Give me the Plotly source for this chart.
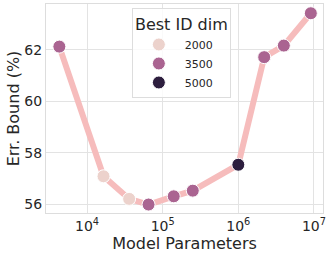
import plotly.graph_objects as go

params = [4.3e3, 1.65e4, 3.6e4, 6.5e4, 1.4e5, 2.5e5, 1.0e6, 2.2e6, 4.0e6, 9.1e6]
err_bound = [62.13, 57.08, 56.2, 55.98, 56.3, 56.52, 57.53, 61.72, 62.17, 63.43]
best_id_dim = [3500, 2000, 2000, 3500, 3500, 3500, 5000, 3500, 3500, 3500]
legend_dims = [2000, 3500, 5000]

xtick_vals = [1e4, 1e5, 1e6, 1e7]
xtick_text = ["10<sup>4</sup>", "10<sup>5</sup>", "10<sup>6</sup>", "10<sup>7</sup>"]
ytick_vals = [56, 58, 60, 62]

cscale = [[0, "#ecd2cc"], [0.5, "#aa6491"], [1, "#2d1e3e"]]
cmin, cmax = 2000, 5000

font = "DejaVu Sans"
fig = go.Figure()
fig.add_trace(go.Scatter(
    x=params, y=err_bound, mode="lines",
    line=dict(color="#f6bcbc", width=6), showlegend=False, hoverinfo="skip"))
fig.add_trace(go.Scatter(
    x=params, y=err_bound, mode="markers",
    marker=dict(size=13, color=best_id_dim, colorscale=cscale, cmin=cmin, cmax=cmax,
                line=dict(color="white", width=1)),
    showlegend=False))
for d in legend_dims:
    fig.add_trace(go.Scatter(
        x=[None], y=[None], mode="markers", name=str(d),
        marker=dict(size=13, color=[d], colorscale=cscale, cmin=cmin, cmax=cmax,
                    line=dict(color="white", width=1))))

axis_common = dict(showgrid=True, gridcolor="#e3e3e3", gridwidth=1, zeroline=False,
                   showline=True, linecolor="#dddddd", linewidth=1, mirror=True,
                   automargin=False,
                   ticks="", tickfont=dict(family=font, size=14, color="#262626"))
fig.update_layout(
    width=332, height=256,
    margin=dict(l=46, r=9, t=4, b=43),
    plot_bgcolor="white", paper_bgcolor="white",
    font=dict(family=font, color="#262626"),
    xaxis=dict(type="log", range=[3.457, 7.12], tickvals=xtick_vals, ticktext=xtick_text,
               title=dict(text="Model Parameters", font=dict(family=font, size=16), standoff=0),
               **axis_common),
    yaxis=dict(range=[55.65, 63.79], tickvals=ytick_vals,
               title=dict(text="Err. Bound (%)", font=dict(family=font, size=16), standoff=0),
               **axis_common),
    legend=dict(x=0.31, y=0.98, xanchor="left", yanchor="top",
                bgcolor="rgba(255,255,255,0.8)", bordercolor="#dddddd", borderwidth=1,
                title=dict(text="Best ID dim", font=dict(family=font, size=16), side="top center"),
                font=dict(family=font, size=11), itemwidth=42, tracegroupgap=0),
)
fig.write_html("out.html", config={"displayModeBar": False},
               post_script="document.body.style.margin='0px';")
